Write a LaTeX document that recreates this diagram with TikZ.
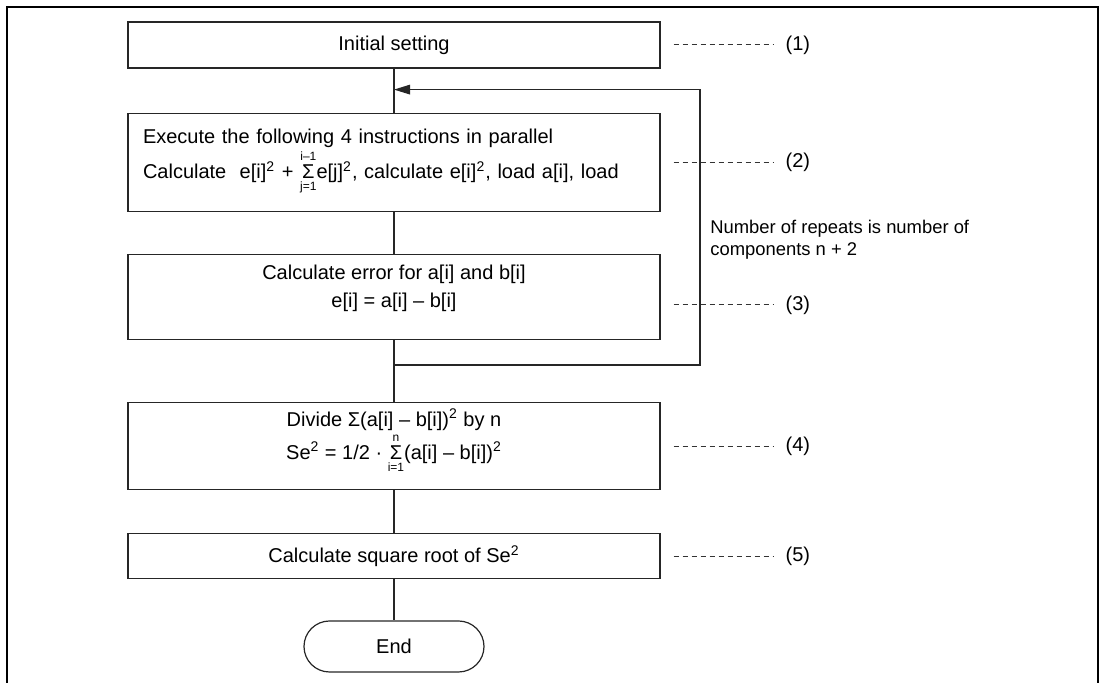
\documentclass[tikz,border=0pt]{standalone}
\usepackage{amsmath}
\usepackage{fontspec}
\setmainfont{Liberation Sans}
\usepackage{tikz}
\usetikzlibrary{arrows.meta,calc,positioning}
\newcommand{\sumat}[2]{\ensuremath{\mathop{\text{Σ}}\limits_{\text{\fontsize{6}{6}\selectfont #1}}^{\text{\fontsize{6}{6}\selectfont #2}}}}
\newcommand{\cuad}{\textsuperscript{2}}
\newcommand{\bajo}[1]{\rule[-#1]{0pt}{#1}}
\tikzset{
  caja/.style={
    draw=black!85,
    line width=.6pt,
    minimum width=266pt,
    align=center,
    inner sep=4pt,
    font=\fontsize{10}{15}\selectfont
  },
  fin/.style={
    draw=black!85,
    line width=.6pt,
    rounded corners=12.75pt,
    minimum width=90pt,
    minimum height=25.5pt,
    font=\fontsize{10}{12}\selectfont
  },
  etiqueta/.style={
    anchor=west,
    inner sep=3pt,
    outer sep=3pt,
    font=\fontsize{10}{12}\selectfont
  },
  nota/.style={
    anchor=north west,
    align=left,
    inner sep=0pt,
    font=\fontsize{9.2}{11}\selectfont
  },
  linea/.style={
    line width=.6pt,
    black!85
  },
  flecha/.style={
    -{Triangle[length=8pt,width=4.8pt]},
    line width=.6pt,
    black!85
  },
  guia/.style={
    dash pattern=on 2.5pt off 2pt,
    line width=.5pt,
    black!80
  }
}

\begin{document}
\begin{tikzpicture}[x=.5pt,y=-.5pt,node distance=22pt]
\useasboundingbox (0,0) rectangle (1100,683);
% marco
\draw[line width=1pt] (7,683) -- (7,7) -- (1098,7) -- (1098,683);

\node[caja, minimum height=23pt] (ini) at (394,45) {Initial setting};
\node[caja, minimum height=49pt, below=22pt of ini, text width=251pt, align=left, inner xsep=7.5pt,
      font=\fontsize{10}{17.5}\selectfont] (par)
  {Execute the following 4 instructions in parallel\\
   Calculate \ e[i]\cuad\ + \sumat{j=1}{i–1}e[j]\cuad, calculate e[i]\cuad, load a[i], load};
\node[caja, minimum height=42.5pt, below=21pt of par, font=\fontsize{10}{14}\selectfont] (err)
  {Calculate error for a[i] and b[i]\\ e[i] = a[i] – b[i]\bajo{11pt}};
\node[caja, minimum height=43.5pt, below=31pt of err, inner ysep=0pt, font=\fontsize{10}{16.5}\selectfont] (div)
  {Divide Σ(a[i] – b[i])\cuad\ by n\\
   Se\cuad\ = 1/2 · \sumat{i=1}{n}(a[i] – b[i])\cuad\bajo{12pt}};
\node[caja, minimum height=22.5pt, below=21.5pt of div] (raiz) {Calculate square root of Se\cuad};
\node[fin, below=20.5pt of raiz] (end) {End};

\draw[linea] (ini) -- (par);
\draw[linea] (par) -- (err);
\draw[linea] (err) -- (div);
\draw[linea] (div) -- (raiz);
\draw[linea] (raiz) -- (end);

% bucle
\coordinate (sal) at ($(err.south)+(0,25)$);
\coordinate (ent) at ($(ini.south)+(0,21)$);
\draw[flecha] (sal) -- ++(306,0) |- (ent);
\node[nota] (rep) at (710,220) {Number of repeats is number of\\components n + 2};

% pasos
\foreach \b/\n/\d in {ini/1/0, par/2/0, err/3/8, div/4/0, raiz/5/0} {
  \node[etiqueta] (p\n) at ($(\b.east)+(113,\d)$) {(\n)};
  \draw[guia] ($(\b.east)+(13,\d)$) -- (p\n.west);
}
\end{tikzpicture}
\end{document}
